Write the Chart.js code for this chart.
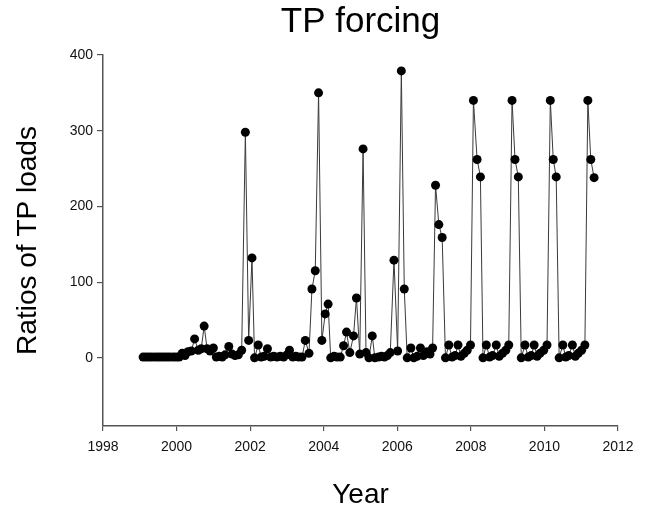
<!DOCTYPE html>
<html><head><meta charset="utf-8">
<script src="https://cdn.jsdelivr.net/npm/chart.js@4.4.1/dist/chart.umd.min.js"></script>
<style>html,body{margin:0;padding:0;background:#fff}canvas{display:block}</style>
</head><body>
<canvas id="c" width="652" height="512"></canvas>
<script>
const years = [
1999.09,1999.17,1999.25,1999.33,1999.42,1999.50,1999.58,1999.66,1999.74,1999.82,1999.91,1999.99,
2000.07,2000.15,2000.23,2000.31,2000.40,2000.49,2000.59,2000.67,2000.75,2000.83,2000.91,2001.00,
2001.08,2001.16,2001.24,2001.32,2001.42,2001.51,2001.59,2001.68,2001.77,2001.87,2001.96,2002.05,
2002.12,2002.22,2002.30,2002.38,2002.47,2002.56,2002.64,2002.73,2002.82,2002.91,2003.00,2003.07,
2003.16,2003.24,2003.32,2003.41,2003.50,2003.60,2003.68,2003.77,2003.86,2003.95,2004.04,2004.12,
2004.19,2004.28,2004.36,2004.45,2004.54,2004.62,2004.71,2004.81,2004.89,2004.98,2005.07,2005.15,
2005.23,2005.32,2005.39,2005.49,2005.57,2005.65,2005.73,2005.81,2005.91,2006.01,2006.11,2006.19,
2006.27,2006.37,2006.45,2006.54,2006.63,2006.71,2006.81,2006.89,2006.96,2007.04,2007.13,2007.22,
2007.31,2007.40,2007.49,2007.57,2007.65,2007.73,2007.82,2007.90,2007.99,2008.07,2008.17,2008.26,
2008.33,2008.42,2008.51,2008.59,2008.69,2008.77,2008.86,2008.95,2009.03,2009.12,2009.20,2009.29,
2009.37,2009.47,2009.56,2009.64,2009.72,2009.80,2009.88,2009.98,2010.07,2010.16,2010.24,2010.32,
2010.40,2010.50,2010.58,2010.66,2010.76,2010.84,2010.92,2011.01,2011.10,2011.18,2011.26,2011.35
];
const ratios = [
1,1,1,1,1,1,1,1,1,1,1,1,
1,6,3,8,9,25,10,12,42,12,9,13,
1,2,1,4,15,5,3,4,10,298,23,132,
0,17,1,2,12,1,2,1,2,1,4,10,
1,2,1,1,23,6,91,115,350,23,58,71,
0,2,1,1,16,34,7,29,79,5,276,7,
0,29,0,1,2,1,3,7,129,9,379,91,
0,13,0,2,13,3,8,5,13,228,176,159,
0,17,1,3,17,2,6,10,17,340,262,239,
0,17,1,3,17,2,6,10,17,340,262,239,
0,17,1,3,17,2,6,10,17,340,262,239,
0,17,1,3,17,2,6,10,17,340,262,238
];
const xTicks = [1998,2000,2002,2004,2006,2008,2010,2012];
const yTicks = [0,100,200,300,400];

const FONT = "'Liberation Sans', Arial, Helvetica, sans-serif";
const points = years.map((y, i) => ({x: y, y: ratios[i]}));

const bg = {
  id: 'bg',
  beforeDraw(chart) {
    const ctx = chart.ctx;
    ctx.save();
    ctx.fillStyle = '#fff';
    ctx.fillRect(0, 0, chart.width, chart.height);
    ctx.restore();
  }
};

new Chart(document.getElementById('c'), {
  type: 'line',
  data: {
    datasets: [{
      data: points,
      borderColor: '#3a3a3a',
      borderWidth: 1,
      pointBackgroundColor: '#000',
      pointBorderColor: '#000',
      pointRadius: 4.5,
      pointBorderWidth: 0,
      tension: 0,
      fill: false
    }]
  },
  options: {
    responsive: false,
    animation: false,
    devicePixelRatio: 1,
    layout: { padding: { left: 0, right: 34, top: 0, bottom: 0 } },
    plugins: {
      legend: { display: false },
      tooltip: { enabled: false },
      title: {
        display: true,
        fullSize: false,
        text: 'TP forcing',
        color: '#000',
        font: { family: FONT, size: 35, weight: 'normal' },
        padding: { top: 1, bottom: 12 }
      }
    },
    scales: {
      x: {
        type: 'linear',
        min: 1998, max: 2012,
        afterFit(s) { s.height = 86; },
        afterBuildTicks(s) { s.ticks = xTicks.map(v => ({value: v})); },
        grid: { display: true, drawOnChartArea: false, drawTicks: true, tickLength: 5, color: '#555', lineWidth: 1.2 },
        border: { display: true, color: '#555', width: 1.5 },
        ticks: { color: '#111', font: { family: FONT, size: 14 }, padding: 8, maxRotation: 0, autoSkip: false,
                 callback: v => String(v) },
        title: { display: true, text: 'Year', color: '#000', font: { family: FONT, size: 28 }, padding: { top: 0, bottom: 0 } }
      },
      y: {
        type: 'linear',
        min: -90, max: 400,
        afterFit(s) { s.width = 103; },
        afterBuildTicks(s) { s.ticks = yTicks.map(v => ({value: v})); },
        grid: { display: true, drawOnChartArea: false, drawTicks: true, tickLength: 6, color: '#555', lineWidth: 1.2 },
        border: { display: true, color: '#555', width: 1.5 },
        ticks: { color: '#111', font: { family: FONT, size: 14 }, padding: 4, callback: v => String(v) },
        title: { display: true, text: 'Ratios of TP loads', color: '#000', font: { family: FONT, size: 28 }, padding: { top: 11, bottom: 0 } }
      }
    }
  },
  plugins: [bg]
});
</script>
</body></html>
